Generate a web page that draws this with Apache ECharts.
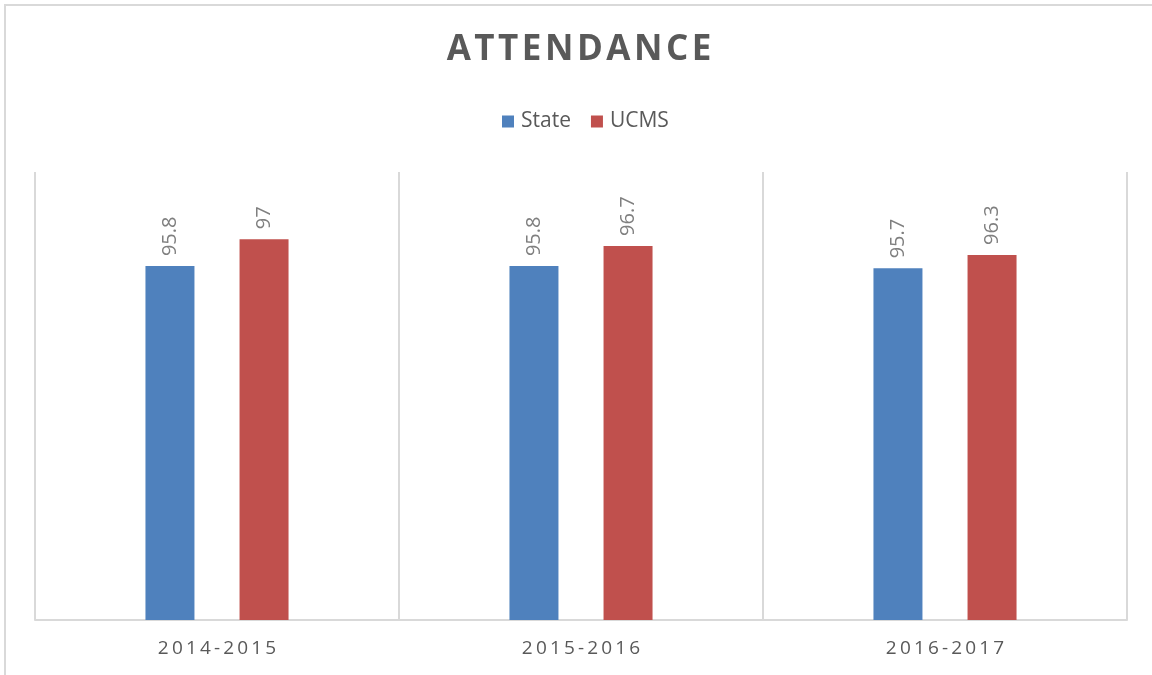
<!DOCTYPE html>
<html><head><meta charset="utf-8">
<script src="https://cdn.jsdelivr.net/npm/echarts@6/dist/echarts.min.js"></script>
<style>html,body{margin:0;padding:0;background:#fff}#c{width:1152px;height:675px}</style>
</head><body><div id="c"></div>
<script>
const categories = ['2014-2015', '2015-2016', '2016-2017'];
const stateValues = [95.8, 95.8, 95.7];
const ucmsValues = [97, 96.7, 96.3];
const seriesNames = ['State', 'UCMS'];

const spaced = s => s.split('').join('\u200A');
const chart = echarts.init(document.getElementById('c'));
const labelCfg = {
  show: true, position: 'top', rotate: 90, distance: 10,
  align: 'left', verticalAlign: 'middle',
  color: '#7f7f7f', fontSize: 20, fontFamily: 'Open Sans'
};
chart.setOption({
  animation: false,
  graphic: [{
    type: 'rect', shape: { x: 5, y: 5, width: 1200, height: 700 },
    style: { fill: 'none', stroke: '#d9d9d9', lineWidth: 2 }, silent: true
  }],
  title: {
    text: spaced('ATTENDANCE'), top: 28, left: 574, textAlign: 'center',
    textStyle: { color: '#595959', fontSize: 35, fontWeight: 'bold', fontFamily: 'Open Sans' }
  },
  legend: {
    data: seriesNames, top: 106, left: 497, itemWidth: 12, itemHeight: 12, itemGap: 20,
    icon: 'rect',
    textStyle: { color: '#595959', fontSize: 21, fontFamily: 'Open Sans', padding: [0, 0, 0, 2] }
  },
  grid: { left: 35, right: 25, top: 172, bottom: 55 },
  xAxis: {
    type: 'category', data: categories,
    axisLine: { lineStyle: { color: '#d9d9d9', width: 2 } },
    axisTick: { show: false },
    splitLine: { show: true, lineStyle: { color: '#d9d9d9', width: 2 } },
    axisLabel: { color: '#595959', fontSize: 19, fontFamily: 'Open Sans', margin: 19,
      formatter: v => v.split('').join('\u2009') }
  },
  yAxis: { type: 'value', min: 80, max: 100, show: false, splitLine: { show: false } },
  series: [
    { name: seriesNames[0], type: 'bar', data: stateValues, barWidth: 49, barGap: '92%',
      itemStyle: { color: '#4f81bd' }, label: labelCfg },
    { name: seriesNames[1], type: 'bar', data: ucmsValues, barWidth: 49,
      itemStyle: { color: '#c0504d' }, label: labelCfg }
  ]
});
</script></body></html>
